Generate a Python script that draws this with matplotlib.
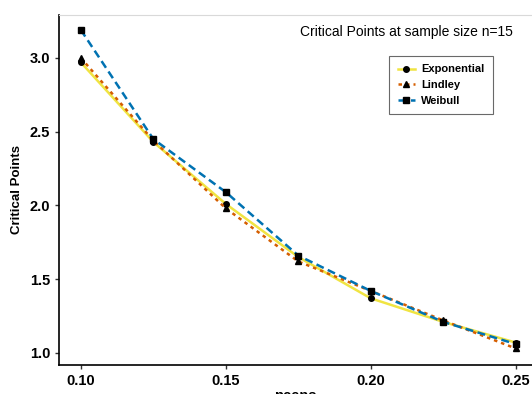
import numpy as np
import matplotlib.pyplot as plt

plt.rcParams['font.family'] = ['Liberation Sans', 'DejaVu Sans']

# ====== data ======
pcens = [0.100, 0.125, 0.150, 0.175, 0.200, 0.225, 0.250]
exponential = [2.97, 2.43, 2.01, 1.65, 1.37, 1.21, 1.07]
lindley = [3.00, 2.44, 1.98, 1.62, 1.42, 1.22, 1.03]
weibull = [3.19, 2.45, 2.09, 1.66, 1.42, 1.21, 1.06]

# ====== figure ======
fig = plt.figure(figsize=(5.32, 3.94), dpi=100)
ax = fig.add_axes([0.111, 0.074, 0.889, 0.888])

ax.plot(pcens, exponential, color='#F0E442', lw=1.8, ls='-', marker='o',
        mfc='black', mec='black', ms=4, label='Exponential')
ax.plot(pcens, lindley, color='#D55E00', lw=1.8, ls=(0, (1.4, 1.6)), marker='^',
        mfc='black', mec='black', ms=4, label='Lindley')
ax.plot(pcens, weibull, color='#0072B2', lw=1.8, ls=(0, (3.2, 1.8)), marker='s',
        mfc='black', mec='black', ms=4, label='Weibull')

ax.set_xlim(0.0925, 0.2556)
ax.set_ylim(0.919, 3.291)
ax.set_xticks([0.10, 0.15, 0.20, 0.25])
ax.set_xticklabels(['0.10', '0.15', '0.20', '0.25'])
ax.set_yticks([1.0, 1.5, 2.0, 2.5, 3.0])
ax.set_yticklabels(['1.0', '1.5', '2.0', '2.5', '3.0'])

for lab in ax.get_xticklabels() + ax.get_yticklabels():
    lab.set_fontweight('bold')
    lab.set_fontsize(10.5)
ax.tick_params(length=3, width=1, color='#333333')

ax.spines['right'].set_visible(False)
ax.spines['top'].set_color('#D9D9D9')
ax.spines['left'].set_linewidth(1.2)
ax.spines['bottom'].set_linewidth(1.2)

ax.set_xlabel('pcens', fontweight='bold', fontsize=10.5, labelpad=1)
ax.set_ylabel('Critical Points', fontweight='bold', fontsize=9.5, labelpad=5)

ax.text(0.96, 0.951, 'Critical Points at sample size n=15', transform=ax.transAxes,
        ha='right', va='center', fontsize=10)

leg = ax.legend(loc='upper left', bbox_to_anchor=(0.686, 0.9),
                prop={'weight': 'bold', 'size': 8}, frameon=True, fancybox=False,
                handlelength=1.5, borderpad=0.8, labelspacing=0.5, handletextpad=0.6)
leg.get_frame().set_edgecolor('#444444')
leg.get_frame().set_linewidth(0.8)

fig.savefig('out.png', dpi=100)
